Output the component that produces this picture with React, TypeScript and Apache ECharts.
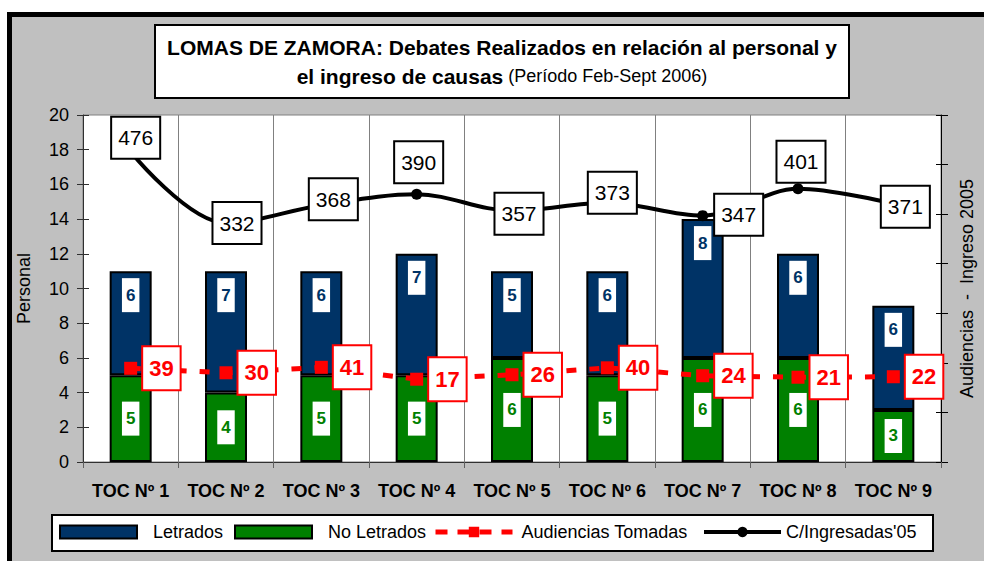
import React, { useEffect, useRef } from 'react';
import * as echarts from 'echarts';

const categories = ['TOC Nº 1', 'TOC Nº 2', 'TOC Nº 3', 'TOC Nº 4', 'TOC Nº 5', 'TOC Nº 6', 'TOC Nº 7', 'TOC Nº 8', 'TOC Nº 9'];
const letrados = [6, 7, 6, 7, 5, 6, 8, 6, 6];
const noLetrados = [5, 4, 5, 5, 6, 5, 6, 6, 3];
const audiencias = [39, 30, 41, 17, 26, 40, 24, 21, 22];
const ingresadas = [476, 332, 368, 390, 357, 373, 347, 401, 371];

// label placement (style only)
const ingresadasLabelOffsets = [[5, -14], [11, 0], [12, -6], [2, -32], [7, 3], [5, -10], [36, -1], [3, -27], [12, 3]];

const FONT = '"Liberation Sans", Arial, Helvetica, sans-serif';
const NAVY = '#003366';
const GREEN = '#008000';
const RED = '#ff0000';
const AXIS = '#303030';

export default function App() {
  const ref = useRef<HTMLDivElement>(null);
  useEffect(() => {
    const chart = echarts.init(ref.current!, null, { renderer: 'svg' });
    const legendBase = {
      orient: 'horizontal',
      top: 523,
      padding: 0,
      itemWidth: 77,
      itemHeight: 13,
      selectedMode: false,
    };
    const option: any = {
      animation: false,
      textStyle: { fontFamily: FONT },
      graphic: [
        {
          type: 'rect',
          z: 0,
          shape: { x: 155, y: 25, width: 694, height: 73 },
          style: { fill: '#fff', stroke: '#000', lineWidth: 2 },
        },
        {
          type: 'text',
          z: 1,
          x: 502,
          y: 47,
          style: {
            text: 'LOMAS DE ZAMORA: Debates Realizados en relación al personal y',
            fontFamily: FONT,
            fontSize: 21,
            fontWeight: 'bold',
            fill: '#000',
            align: 'center',
            verticalAlign: 'middle',
          },
        },
        {
          type: 'text',
          z: 1,
          x: 502,
          y: 76,
          style: {
            text: '{b|el ingreso de causas}{n| (Período Feb-Sept 2006)}',
            rich: {
              b: { fontFamily: FONT, fontSize: 21, fontWeight: 'bold', fill: '#000', color: '#000' },
              n: { fontFamily: FONT, fontSize: 18, fill: '#000', color: '#000' },
            },
            fill: '#000',
            align: 'center',
            verticalAlign: 'middle',
          },
        },
        {
          type: 'rect',
          z: 0,
          shape: { x: 52, y: 515, width: 881, height: 36 },
          style: { fill: '#fff', stroke: '#000', lineWidth: 2 },
        },
      ],
      legend: [
        {
          ...legendBase,
          left: 59,
          icon: 'rect',
          data: ['Letrados'],
          itemStyle: { borderColor: '#000', borderWidth: 2 },
          textStyle: { fontSize: 18, color: '#000', padding: [0, 0, 0, 11] },
        },
        {
          ...legendBase,
          left: 234,
          icon: 'rect',
          data: ['No Letrados'],
          itemStyle: { borderColor: '#000', borderWidth: 2 },
          textStyle: { fontSize: 18, color: '#000', padding: [0, 0, 0, 11] },
        },
        {
          ...legendBase,
          left: 433,
          data: ['Audiencias Tomadas'],
          lineStyle: { width: 5, type: [12, 10], color: RED },
          textStyle: { fontSize: 18, color: '#000', padding: [0, 0, 0, 4] },
        },
        {
          ...legendBase,
          left: 702,
          data: ["C/Ingresadas'05"],
          lineStyle: { width: 4, color: '#000' },
          textStyle: { fontSize: 18, color: '#000', padding: [0, 0, 0, 0] },
        },
      ],
      grid: {
        left: 83,
        right: 42,
        top: 115,
        bottom: 99,
        show: true,
        backgroundColor: '#fff',
        borderColor: '#808080',
        borderWidth: 1,
      },
      xAxis: {
        type: 'category',
        data: categories,
        boundaryGap: true,
        axisLine: { show: true, lineStyle: { color: AXIS, width: 1 } },
        axisTick: { show: true, length: 6, interval: 0, lineStyle: { color: '#606060' } },
        axisLabel: { fontSize: 18, fontWeight: 'bold', color: '#000', margin: 20, interval: 0 },
        splitLine: { show: true, interval: 0, lineStyle: { color: '#808080', width: 1 } },
      },
      yAxis: [
        {
          type: 'value',
          position: 'left',
          min: 0,
          max: 20,
          interval: 2,
          name: 'Personal',
          nameLocation: 'middle',
          nameRotate: 90,
          nameGap: 50,
          nameTextStyle: { fontSize: 18, color: '#000' },
          axisLine: { show: true, lineStyle: { color: AXIS } },
          axisTick: { show: true, length: 6, lineStyle: { color: AXIS } },
          axisLabel: { fontSize: 18, color: '#000', margin: 14 },
          splitLine: { show: false },
        },
        {
          type: 'value',
          position: 'right',
          min: -150,
          max: 550,
          interval: 100,
          name: 'Audiencias  -  Ingreso 2005',
          nameLocation: 'middle',
          nameRotate: 90,
          nameGap: 17,
          nameTextStyle: { fontSize: 18, color: '#000' },
          axisLine: { show: true, lineStyle: { color: '#000' } },
          axisTick: { show: true, length: 7, lineStyle: { color: '#000' } },
          axisLabel: { show: false },
          splitLine: { show: false },
        },
        {
          type: 'value',
          position: 'left',
          min: 0,
          max: 20,
          interval: 2,
          axisLine: { show: false },
          axisTick: { show: true, inside: true, length: 6, lineStyle: { color: AXIS } },
          axisLabel: { show: false },
          splitLine: { show: false },
        },
        {
          type: 'value',
          position: 'right',
          min: -150,
          max: 550,
          interval: 100,
          axisLine: { show: false },
          axisTick: { show: true, inside: true, length: 5, lineStyle: { color: '#000' } },
          axisLabel: { show: false },
          splitLine: { show: false },
        },
      ],
      series: [
        {
          name: 'No Letrados',
          type: 'bar',
          stack: 'personal',
          yAxisIndex: 0,
          barWidth: 42,
          data: noLetrados,
          itemStyle: { color: GREEN, borderColor: '#000', borderWidth: 2 },
          label: {
            show: true,
            position: 'inside',
            color: GREEN,
            fontWeight: 'bold',
            fontSize: 17,
            lineHeight: 18,
            backgroundColor: '#fff',
            padding: [8, 4, 8, 4],
          },
        },
        {
          name: 'Letrados',
          type: 'bar',
          stack: 'personal',
          yAxisIndex: 0,
          barWidth: 42,
          data: letrados,
          itemStyle: { color: NAVY, borderColor: '#000', borderWidth: 2 },
          label: {
            show: true,
            position: 'insideTop',
            distance: 7,
            color: NAVY,
            fontWeight: 'bold',
            fontSize: 17,
            lineHeight: 18,
            backgroundColor: '#fff',
            padding: [8, 4, 8, 4],
          },
        },
        {
          name: 'Audiencias Tomadas',
          type: 'line',
          yAxisIndex: 1,
          data: audiencias,
          symbol: 'rect',
          symbolSize: 13,
          itemStyle: { color: RED },
          lineStyle: { color: RED, width: 5, type: [10, 13] },
          label: {
            show: true,
            position: 'right',
            distance: 6,
            color: RED,
            fontWeight: 'bold',
            fontSize: 22,
            lineHeight: 22,
            backgroundColor: '#fff',
            borderColor: RED,
            borderWidth: 2,
            padding: [10, 6, 10, 6],
          },
          z: 3,
        },
        {
          name: "C/Ingresadas'05",
          type: 'line',
          yAxisIndex: 1,
          smooth: 0.35,
          data: ingresadas.map((v, i) => ({
            value: v,
            label: { offset: ingresadasLabelOffsets[i] },
          })),
          symbol: 'circle',
          symbolSize: 11,
          itemStyle: { color: '#000' },
          lineStyle: { color: '#000', width: 4 },
          label: {
            show: true,
            position: 'inside',
            color: '#000',
            fontSize: 21,
            lineHeight: 21,
            backgroundColor: '#fff',
            borderColor: '#000',
            borderWidth: 2,
            padding: [10, 6, 9, 6],
          },
          z: 4,
        },
      ],
    };
    chart.setOption(option);
    return () => chart.dispose();
  }, []);

  return (
    <div style={{ position: 'fixed', left: 0, top: 0, width: 984, height: 561, background: '#fff', overflow: 'hidden' }}>
      <div
        style={{
          position: 'absolute',
          left: 7,
          top: 12,
          width: 1000,
          height: 600,
          borderLeft: '5px solid #000',
          borderTop: '5px solid #000',
          background: '#c0c0c0',
        }}
      />
      <div ref={ref} style={{ position: 'absolute', left: 0, top: 0, width: 984, height: 561 }} />
    </div>
  );
}
